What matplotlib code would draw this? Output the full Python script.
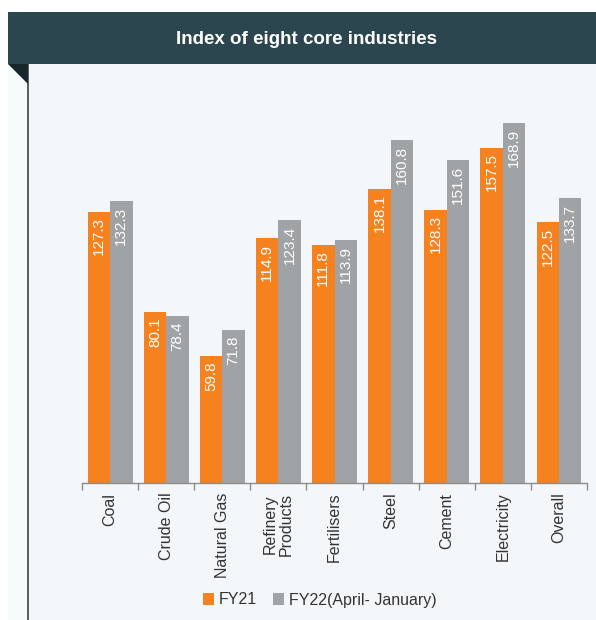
import numpy as np
import matplotlib.pyplot as plt
from matplotlib.patches import Rectangle, Polygon
from matplotlib.lines import Line2D

plt.rcParams['font.family'] = ['Liberation Sans', 'DejaVu Sans']

categories = ['Coal', 'Crude Oil', 'Natural Gas', 'Refinery\nProducts', 'Fertilisers',
              'Steel', 'Cement', 'Electricity', 'Overall']
fy21 = [127.3, 80.1, 59.8, 114.9, 111.8, 138.1, 128.3, 157.5, 122.5]
fy22 = [132.3, 78.4, 71.8, 123.4, 113.9, 160.8, 151.6, 168.9, 133.7]
series_names = ['FY21', 'FY22(April- January)']

ORANGE = '#f5821f'
GRAY = '#a0a3a6'
PANEL = '#f3f7fa'
HEADER = '#2b464e'

W, H = 596, 620
fig = plt.figure(figsize=(W / 100, H / 100), dpi=100)
fig.patch.set_facecolor('white')

def fx(px):
    return px / W

def fy(py):
    return 1 - py / H

# panel background, left strip, border line
fig.patches.append(Rectangle((fx(28), 0), 1 - fx(28), fy(64), transform=fig.transFigure,
                             facecolor=PANEL, edgecolor='none', zorder=-3))
fig.patches.append(Rectangle((fx(8), 0), fx(20), fy(64), transform=fig.transFigure,
                             facecolor='#f6fafb', edgecolor='none', zorder=-3))
fig.lines.append(Line2D([fx(28), fx(28)], [0, fy(64)], transform=fig.transFigure,
                        color='#4a5456', lw=1.3, zorder=-2))
# header
fig.patches.append(Rectangle((fx(8), fy(64)), 1 - fx(8), fy(12) - fy(64), transform=fig.transFigure,
                             facecolor=HEADER, edgecolor='none', zorder=-2))
fig.patches.append(Polygon([(fx(8), fy(64)), (fx(28), fy(64)), (fx(28), fy(84))],
                           transform=fig.transFigure, facecolor='#17272c', edgecolor='none', zorder=-2))
fig.text(fx(307), fy(39), 'Index of eight core industries', color='white', fontsize=13.5,
         fontweight='bold', ha='center', va='center')

ax = fig.add_axes([fx(82), fy(483), fx(587) - fx(82), fy(80) - fy(483)])
ax.set_facecolor('none')
ax.set_zorder(5)

x = np.arange(len(categories))
w = 0.4
b1 = ax.bar(x - w / 2, fy21, w, color=ORANGE, label=series_names[0])
b2 = ax.bar(x + w / 2, fy22, w, color=GRAY, label=series_names[1])

for bars, vals in [(b1, fy21), (b2, fy22)]:
    for r, v in zip(bars, vals):
        ax.text(r.get_x() + r.get_width() / 2, v - 2.5, f'{v:.1f}', rotation=90,
                ha='center', va='top', color='white', fontsize=11)

ax.set_xlim(-0.5, len(categories) - 0.5)
ax.set_ylim(0, 189.2)
ax.set_yticks([])
for s in ['top', 'right', 'left']:
    ax.spines[s].set_visible(False)
ax.spines['bottom'].set_color('#8c8c8c')
ax.spines['bottom'].set_linewidth(1.0)

ax.set_xticks(x)
ax.set_xticklabels(categories, rotation=90, fontsize=11.5, color='#333333',
                   linespacing=1.05)
ax.tick_params(axis='x', which='major', length=0, pad=7)
ax.set_xticks(np.arange(-0.5, len(categories)), minor=True)
ax.tick_params(axis='x', which='minor', length=5, color='#8c8c8c', width=1.0)

fig.legend(handles=[b1, b2], labels=series_names, loc='center', bbox_to_anchor=(fx(320), fy(600)),
           ncol=2, frameon=False, fontsize=11.5, handlelength=0.7, handleheight=0.7,
           handletextpad=0.3, columnspacing=1.0, labelcolor='#333333')

fig.savefig('out.png', dpi=100, facecolor=fig.get_facecolor())
